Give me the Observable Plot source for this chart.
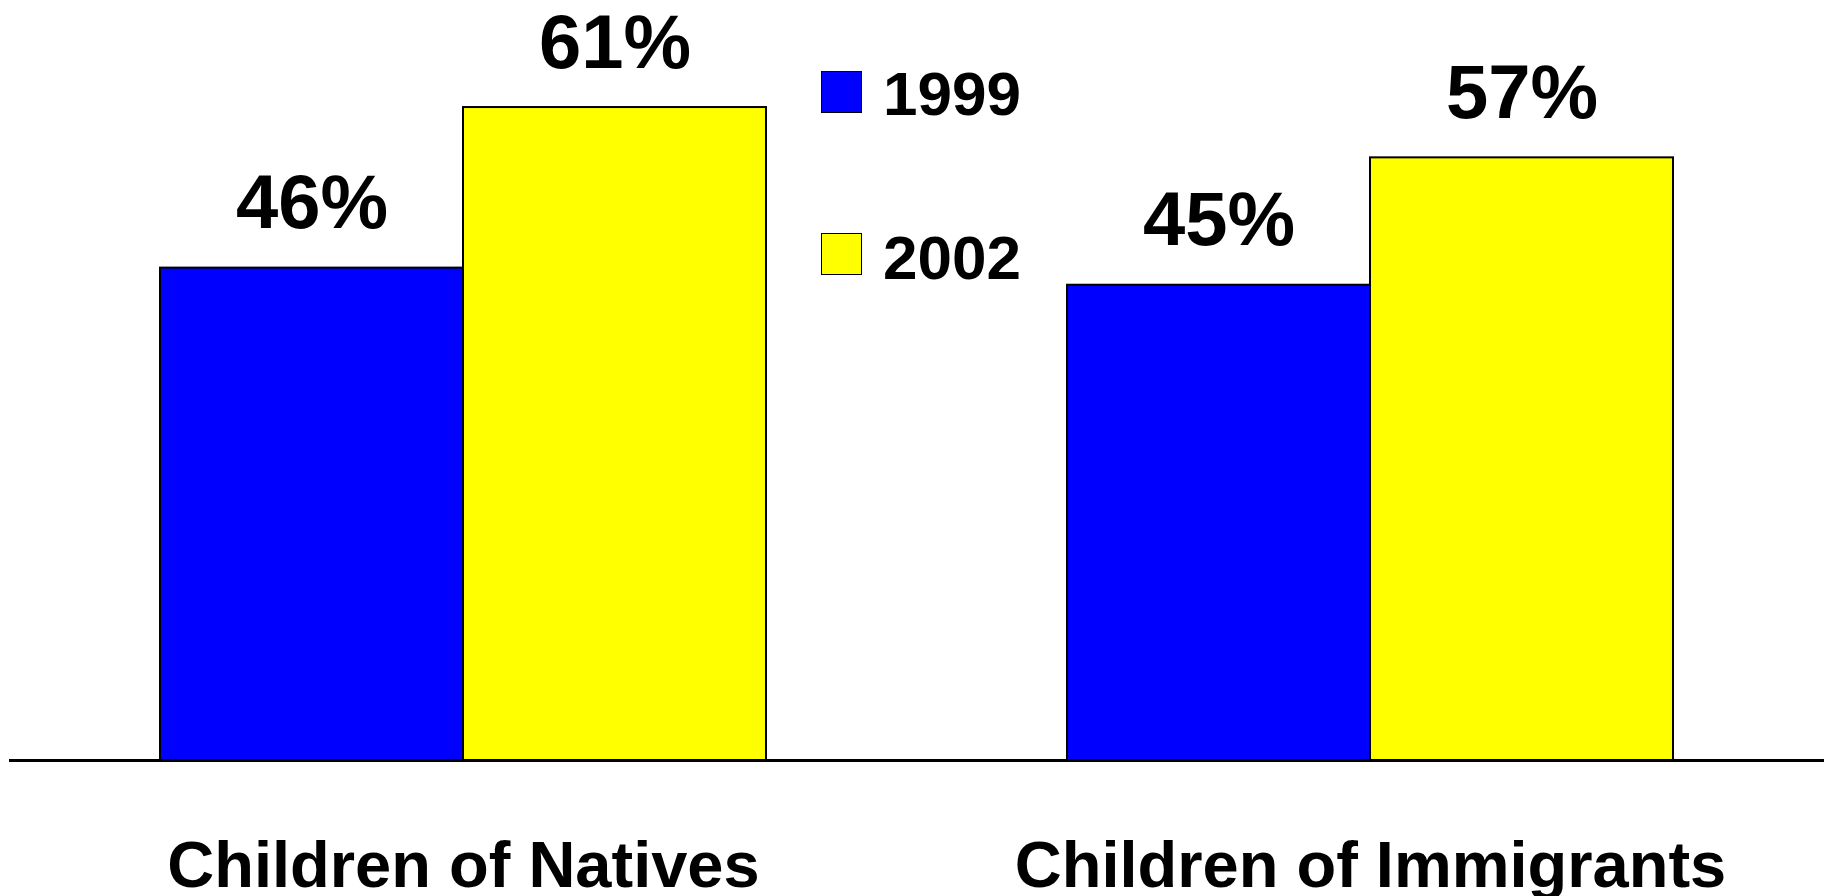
<!DOCTYPE html>
<html>
<head>
<meta charset="utf-8">
<script src="https://cdn.jsdelivr.net/npm/d3@7"></script>
<script src="https://cdn.jsdelivr.net/npm/@observablehq/plot@0.6"></script>
<style>
  html, body { margin: 0; padding: 0; background: #ffffff; }
  #wrap { position: relative; width: 1824px; height: 896px; overflow: hidden; font-family: "Liberation Sans", Arial, Helvetica, sans-serif; }
  #legend { position: absolute; left: 0; top: 0; }
  .sw { position: absolute; left: 821px; width: 39px; height: 40px; border: 1.5px solid #000; box-sizing: content-box; }
  .lab { position: absolute; left: 883px; font-size: 62px; font-weight: bold; color: #000; line-height: 62px; white-space: nowrap; }
</style>
</head>
<body>
<div id="wrap"><div id="legend"></div></div>
<script>
// ---- data ----
const categories = ["Children of Natives", "Children of Immigrants"];
const years = ["1999", "2002"];
const colors = ["#0000ff", "#ffff00"];
const valuesNatives = [46, 61];
const valuesImmigrants = [44.4, 56.3];
const labelsNatives = ["46%", "61%"];
const labelsImmigrants = ["45%", "57%"];

const seriesValues = [valuesNatives, valuesImmigrants];
const seriesLabels = [labelsNatives, labelsImmigrants];
const rows = [];
categories.forEach((c, i) => years.forEach((y, j) => rows.push({
  group: c, year: y, value: seriesValues[i][j], label: seriesLabels[i][j]
})));

const font = '"Liberation Sans", Arial, Helvetica, sans-serif';

const chart = Plot.plot({
  width: 1824,
  height: 896,
  marginLeft: 160,
  marginRight: 151,
  marginTop: 0,
  marginBottom: 136,
  style: { fontFamily: font, background: "transparent", overflow: "visible" },
  fx: { domain: categories, paddingInner: 0.332, paddingOuter: 0, axis: null, label: null },
  x: { domain: years, padding: 0, axis: null },
  y: { domain: [0, 71], axis: null },
  color: { domain: years, range: colors },
  marks: [
    Plot.barY(rows, { fx: "group", x: "year", y: "value", fill: "year", stroke: "#000", strokeWidth: 2 }),
    Plot.ruleY([0], { insetLeft: -151, insetRight: -151, stroke: "#000", strokeWidth: 3 }),
    Plot.text(rows, { fx: "group", x: "year", y: "value", text: "label", dy: -40, lineAnchor: "bottom",
      fontSize: 76, fontWeight: "bold", fill: "#000" }),
    Plot.text(categories, { fx: d => d, text: d => d, frameAnchor: "bottom", dy: 126, lineAnchor: "bottom",
      fontSize: 65, fontWeight: "bold", fill: "#000" })
  ]
});
const wrap = document.getElementById("wrap");
wrap.insertBefore(chart, wrap.firstChild);

// legend (swatch tops and text tops, px)
const legend = document.getElementById("legend");
const swatchTops = [71, 233];
const textTops = [63, 227];
years.forEach((y, i) => {
  const sw = document.createElement("div");
  sw.className = "sw";
  sw.style.top = swatchTops[i] + "px";
  sw.style.background = colors[i];
  const lab = document.createElement("div");
  lab.className = "lab";
  lab.style.top = textTops[i] + "px";
  lab.textContent = y;
  legend.appendChild(sw);
  legend.appendChild(lab);
});
</script>
</body>
</html>
